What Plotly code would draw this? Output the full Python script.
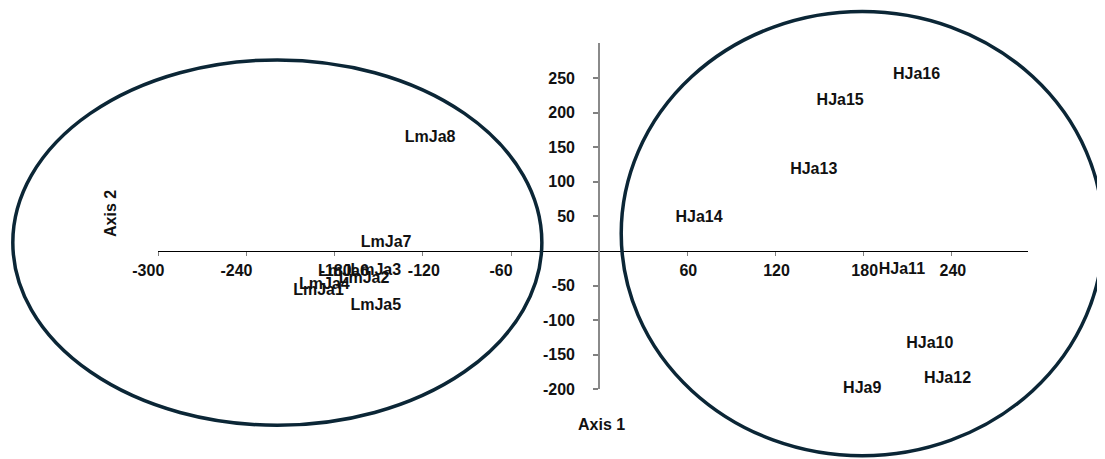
import plotly.graph_objects as go

# ---- data ----
lm_names = ["LmJa1", "LmJa2", "LmJa3", "LmJa4", "LmJa5", "LmJa6", "LmJa7", "LmJa8"]
lm_axis1 = [-191, -160, -152, -187, -152, -174, -145, -115]
lm_axis2 = [-58, -41, -29, -49, -80, -30, 12, 163]

hja_names = ["HJa9", "HJa10", "HJa11", "HJa12", "HJa13", "HJa14", "HJa15", "HJa16"]
hja_axis1 = [179, 225, 206, 237, 146, 68, 164, 216]
hja_axis2 = [-199, -135, -28, -185, 117, 48, 216, 254]

x_ticks_a = [-300, -240, -60]
x_ticks_b = [-180, -120, 60, 120, 180, 240]
y_ticks = [-200, -150, -100, -50, 50, 100, 150, 200, 250]

# cluster ellipses (centre / radii in axis units)
ell_cx = [-219, 179]
ell_cy = [12, 25]
ell_rx = [180, 164]
ell_ry = [264, 321]

# ---- layout geometry ----
OFF = 8                      # default page body margin
W, H = 1105 - OFF, 459 - OFF


def px_x(p):
    return (p - OFF) / W


def px_y(p):
    return 1 - (p - OFF) / H


x_range = [-300, 292]
y_range = [-200, 300]
x_dom = [px_x(158.3), px_x(1028.3)]
y_dom = [px_y(389.3), px_y(43.3)]

x_zero_pos = x_dom[0] + (0 - x_range[0]) / (x_range[1] - x_range[0]) * (x_dom[1] - x_dom[0])
y_zero_pos = y_dom[0] + (0 - y_range[0]) / (y_range[1] - y_range[0]) * (y_dom[1] - y_dom[0])

# full-page axes with the same units (for the ellipses)
sx = (x_range[1] - x_range[0]) / (x_dom[1] - x_dom[0])
sy = (y_range[1] - y_range[0]) / (y_dom[1] - y_dom[0])
page_x = [x_range[0] - x_dom[0] * sx, x_range[1] + (1 - x_dom[1]) * sx]
page_y = [y_range[0] - y_dom[0] * sy, y_range[1] + (1 - y_dom[1]) * sy]

FONT = "Liberation Sans, Arial, sans-serif"
lbl_font = dict(family=FONT, size=16, color="#111111", weight="bold")

fig = go.Figure()
fig.add_trace(go.Scatter(
    x=lm_axis1, y=lm_axis2, text=lm_names, mode="text",
    textposition="middle center", textfont=lbl_font, cliponaxis=False,
    xaxis="x", yaxis="y", showlegend=False, hoverinfo="text"))
fig.add_trace(go.Scatter(
    x=hja_axis1, y=hja_axis2, text=hja_names, mode="text",
    textposition="middle center", textfont=lbl_font, cliponaxis=False,
    xaxis="x2", yaxis="y", showlegend=False, hoverinfo="text"))
fig.add_trace(go.Scatter(
    x=[page_x[0]], y=[page_y[0]], mode="markers", marker=dict(size=1, opacity=0),
    xaxis="x3", yaxis="y3", showlegend=False, hoverinfo="skip"))

for cx, cy, rx, ry in zip(ell_cx, ell_cy, ell_rx, ell_ry):
    fig.add_shape(type="circle", xref="x3", yref="y3",
                  x0=cx - rx, x1=cx + rx, y0=cy - ry, y1=cy + ry,
                  line=dict(color="#0b2636", width=3.5), layer="above")

tick_font = dict(family=FONT, size=16, color="#111111", weight="bold")

fig.update_layout(
    template="none",
    width=W, height=H, margin=dict(l=0, r=0, t=0, b=0, autoexpand=False),
    paper_bgcolor="white", plot_bgcolor="rgba(0,0,0,0)",
    xaxis=dict(domain=x_dom, range=x_range, anchor="free", position=y_zero_pos,
               automargin=False,
               showline=True, linecolor="#000000", linewidth=1,
               showgrid=False, zeroline=False,
               ticks="outside", ticklen=4, tickcolor="#808080", tickwidth=1,
               tickmode="array", tickvals=x_ticks_a, ticktext=[str(v) for v in x_ticks_a],
               tickfont=tick_font, ticklabelstandoff=1, ticklabelshift=-10),
    xaxis2=dict(domain=x_dom, range=x_range, anchor="free", position=y_zero_pos,
                automargin=False,
                overlaying="x", showline=False, showgrid=False, zeroline=False,
                ticks="outside", ticklen=4, tickcolor="#808080", tickwidth=1,
                tickmode="array", tickvals=x_ticks_b, ticktext=[str(v) for v in x_ticks_b],
                tickfont=tick_font, ticklabelstandoff=1, ticklabelshift=1),
    yaxis=dict(domain=y_dom, range=y_range, anchor="free", position=x_zero_pos,
               automargin=False,
               showline=True, linecolor="#8a8a8a", linewidth=2,
               showgrid=False, zeroline=False,
               ticks="outside", ticklen=5, tickcolor="#808080", tickwidth=1.5,
               tickmode="array", tickvals=y_ticks, ticktext=[str(v) for v in y_ticks],
               tickfont=tick_font, ticklabelstandoff=15),
    xaxis3=dict(domain=[0, 1], range=page_x, anchor="y3", visible=False, automargin=False),
    yaxis3=dict(domain=[0, 1], range=page_y, anchor="x3", visible=False, automargin=False),
    annotations=[
        dict(text="Axis 1", x=px_x(601), y=px_y(424), xref="paper", yref="paper",
             showarrow=False, font=dict(family=FONT, size=16, color="#111111", weight="bold"),
             xanchor="center", yanchor="middle"),
        dict(text="Axis 2", x=px_x(110), y=px_y(214), xref="paper", yref="paper",
             showarrow=False, textangle=-90,
             font=dict(family=FONT, size=16, color="#111111", weight="bold"),
             xanchor="center", yanchor="middle"),
    ],
)

fig.write_html("out.html")
